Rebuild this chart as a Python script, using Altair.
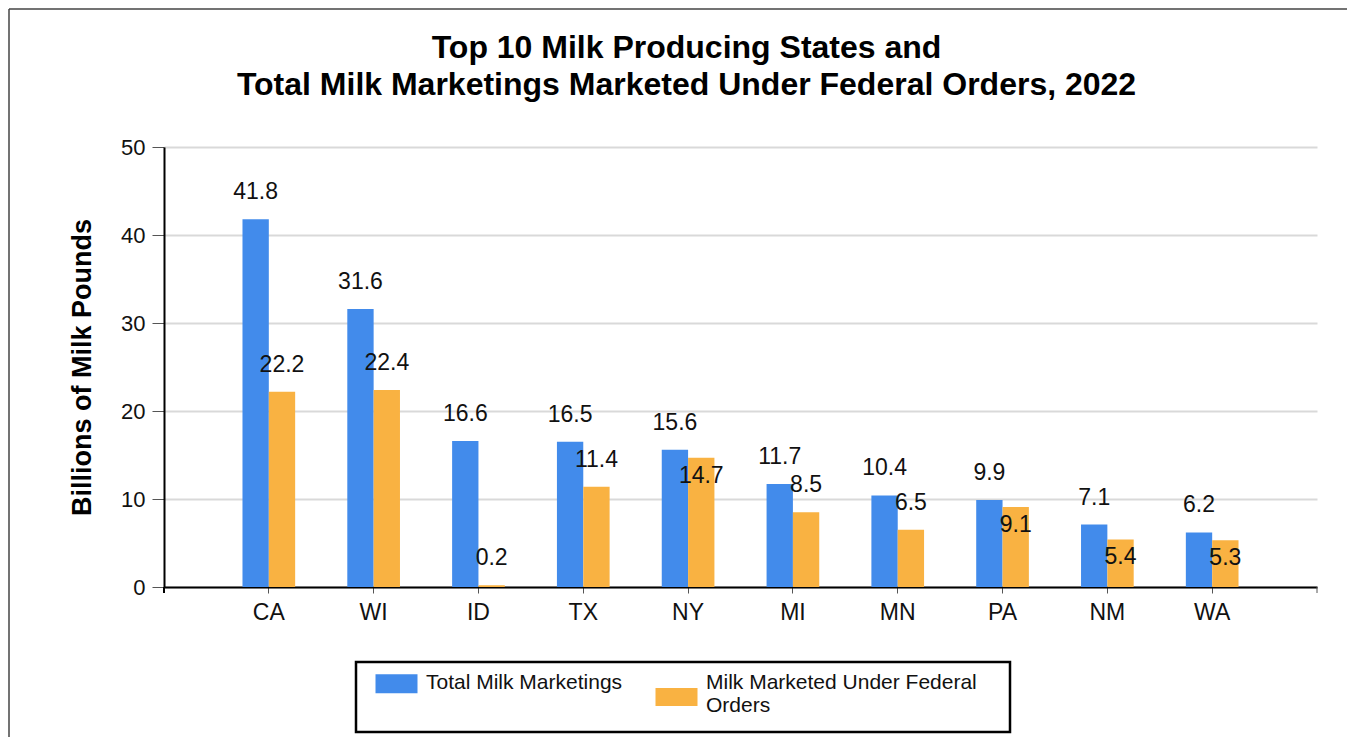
import altair as alt
import pandas as pd

# ---- data ----
states = ["CA", "WI", "ID", "TX", "NY", "MI", "MN", "PA", "NM", "WA"]
total_milk = [41.8, 31.6, 16.6, 16.5, 15.6, 11.7, 10.4, 9.9, 7.1, 6.2]
federal_milk = [22.2, 22.4, 0.2, 11.4, 14.7, 8.5, 6.5, 9.1, 5.4, 5.3]
# where the value label of the federal-order bar sits
fed_label_side = ["above", "above", "above", "above", "inside",
                  "above", "above", "inside", "inside", "inside"]
series = ["Total Milk Marketings", "Milk Marketed Under Federal Orders"]
colors = ["#428BEB", "#F9B242"]
title_lines = ["Top 10 Milk Producing States and",
               "Total Milk Marketings Marketed Under Federal Orders, 2022"]
y_title = "Billions of Milk Pounds"
y_ticks = [0, 10, 20, 30, 40, 50]

rows = []
for i, s in enumerate(states):
    rows.append({"state": s, "series": series[0], "value": total_milk[i], "side": "above"})
    rows.append({"state": s, "series": series[1], "value": federal_milk[i], "side": fed_label_side[i]})
df = pd.DataFrame(rows)

FONT = "Liberation Sans"
W, H = 1153, 440
PAD = {"left": 156, "top": 139, "right": 30, "bottom": 150}

x_enc = alt.X("state:N", sort=states,
              scale=alt.Scale(paddingInner=0, paddingOuter=0.5),
              axis=alt.Axis(title=None, labelAngle=0, labelFontSize=23, labelPadding=8,
                            tickSize=6, tickColor="#555", tickWidth=1,
                            domainColor="black", domainWidth=2, grid=False,
                            labelColor="#111", labelFont=FONT))
xoff = alt.XOffset("series:N", sort=series,
                   scale=alt.Scale(domain=series, paddingInner=0, paddingOuter=0.99))
y_enc = alt.Y("value:Q", scale=alt.Scale(domain=[0, 50], nice=False),
              axis=alt.Axis(title=y_title, values=y_ticks, labelFontSize=22, labelPadding=7,
                            tickSize=12, tickColor="#555", tickWidth=1,
                            domainColor="black", domainWidth=2,
                            grid=True, gridColor="#d9d9d9", gridWidth=2,
                            titleFontSize=27, titleFontWeight="bold", titleColor="black",
                            titlePadding=24, labelColor="#111", labelFont=FONT, titleFont=FONT))

# legend swatches: 42 x 19 and 42 x 18 rectangles (units of 7 px)
symbol_expr = ("datum.label == 'Total Milk Marketings' ? "
               "'M-1,-2.07H5V0.65H-1Z' : 'M-1,-0.11H5V2.46H-1Z'")
label_expr = ("datum.label == 'Total Milk Marketings' ? "
              "['Total Milk Marketings', ' '] : ['Milk Marketed Under Federal', 'Orders']")

color_enc = alt.Color("series:N", sort=series,
                      scale=alt.Scale(domain=series, range=colors),
                      legend=alt.Legend(title=" ", titleOrient="right", titleFontSize=1,
                                        titlePadding=17,
                                        orient="none", legendX=192, legendY=515,
                                        direction="horizontal", columns=2, columnPadding=29,
                                        padding=16, strokeColor="black",
                                        symbolType=alt.ExprRef(expr=symbol_expr),
                                        symbolSize=196, symbolStrokeWidth=0,
                                        labelFontSize=21, labelFont=FONT, labelOffset=33,
                                        labelBaseline="alphabetic",
                                        labelExpr=label_expr, labelLimit=500,
                                        labelColor="#111"))

base = alt.Chart(df)
bars = base.mark_bar().encode(x=x_enc, xOffset=xoff, y=y_enc, color=color_enc)

labels_above = base.transform_filter("datum.side == 'above'").mark_text(
    baseline="middle", align="center", dy=-27, fontSize=23, font=FONT, color="#111"
).encode(x=x_enc, xOffset=xoff, y=y_enc, text=alt.Text("value:Q", format=".1f"))

labels_inside = base.transform_filter("datum.side == 'inside'").mark_text(
    baseline="middle", align="center", dy=18, fontSize=23, font=FONT, color="#111"
).encode(x=x_enc, xOffset=xoff, y=y_enc, text=alt.Text("value:Q", format=".1f"))

one = pd.DataFrame({"k": [0]})
end_tick_left = alt.Chart(one).mark_rule(color="black", strokeWidth=2).encode(
    x=alt.value(0), y=alt.value(H), y2=alt.value(H + 6))
end_tick_right = alt.Chart(one).mark_rule(color="#555", strokeWidth=1).encode(
    x=alt.value(W), y=alt.value(H), y2=alt.value(H + 6))
frame_top = alt.Chart(one).mark_rule(color="#444", strokeWidth=1.5).encode(
    x=alt.value(-PAD["left"] + 1), x2=alt.value(W + PAD["right"]),
    y=alt.value(-PAD["top"] + 1))
frame_left = alt.Chart(one).mark_rule(color="#444", strokeWidth=1.5).encode(
    x=alt.value(-PAD["left"] + 1), y=alt.value(-PAD["top"] + 1),
    y2=alt.value(H + PAD["bottom"]))

chart = alt.layer(
    bars, labels_above, labels_inside, end_tick_left, end_tick_right, frame_top, frame_left
).properties(
    width=W, height=H,
    autosize=alt.AutoSizeParams(type="none"),
    padding=PAD,
    title=alt.Title(text=title_lines, fontSize=32, font=FONT, fontWeight="bold",
                    color="black", anchor="middle", dx=-54, offset=0, dy=94, lineHeight=37),
).configure_view(stroke=None).configure_legend(strokeWidth=2.5)

chart.save("out.html", embed_options={"renderer": "svg", "actions": False})
